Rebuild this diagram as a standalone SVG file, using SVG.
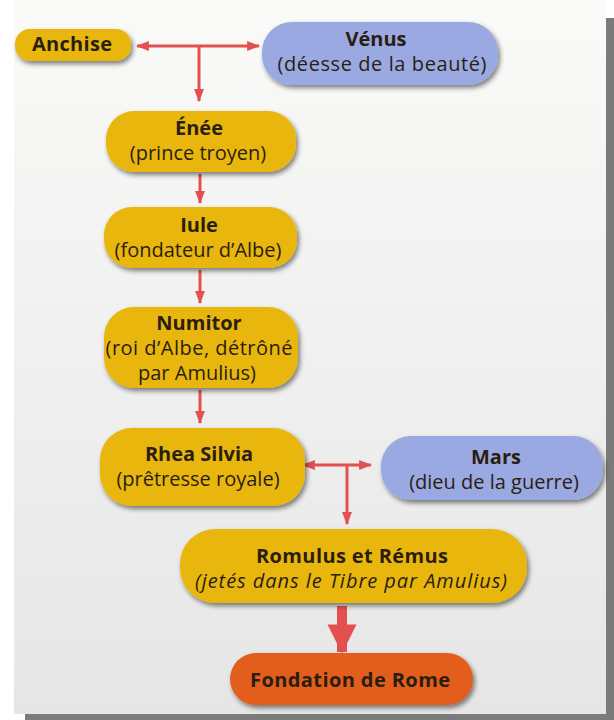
<svg xmlns="http://www.w3.org/2000/svg" width="614" height="720" viewBox="0 0 614 720">
<defs>
<linearGradient id="page" x1="0" y1="0" x2="0" y2="1">
<stop offset="0" stop-color="#fafaf9"/>
<stop offset="1" stop-color="#e6e6e6"/>
</linearGradient>
<filter id="sh" x="-10%" y="-20%" width="130%" height="150%">
<feGaussianBlur in="SourceAlpha" stdDeviation="2.5"/>
<feOffset dx="2" dy="3" result="b"/>
<feComponentTransfer><feFuncA type="linear" slope="0.5"/></feComponentTransfer>
<feMerge><feMergeNode/><feMergeNode in="SourceGraphic"/></feMerge>
</filter>
<marker id="ah" viewBox="0 0 13 10" refX="12" refY="5" markerWidth="4.3" markerHeight="3.3" orient="auto-start-reverse" markerUnits="strokeWidth">
<path d="M0,0 L13,5 L0,10 z" fill="#e2514f"/>
</marker>
<marker id="ahb" viewBox="0 0 10 10" refX="9.5" refY="5" markerWidth="2.9" markerHeight="3" orient="auto" markerUnits="strokeWidth">
<path d="M0,0 L10,5 L0,10 z" fill="#e2514f"/>
</marker>
</defs>
<style>
.y{fill:#e9b60c}
.b{fill:#9ba9e2}
.o{fill:#e35d1f}
.t{font-family:"Open Sans","Noto Sans",sans-serif;font-size:20px;fill:#2a1e10;text-anchor:middle}
.h{font-weight:bold}
.c{fill:none;stroke:#e2514f;stroke-width:3}
.cb{fill:none;stroke:#e2514f;stroke-width:10}
</style>
<rect x="0" y="0" width="614" height="720" fill="#ffffff"/>
<rect x="25" y="18" width="589" height="702" fill="#7b7b7b"/>
<rect x="14" y="0" width="592" height="714" fill="url(#page)"/>

<g id="connectors">
<line class="c" x1="137" y1="46" x2="259" y2="46" marker-start="url(#ah)" marker-end="url(#ah)"/>
<line class="c" x1="199" y1="46" x2="199" y2="101" marker-end="url(#ah)"/>
<line class="c" x1="200" y1="174" x2="200" y2="203" marker-end="url(#ah)"/>
<line class="c" x1="200" y1="270" x2="200" y2="303" marker-end="url(#ah)"/>
<line class="c" x1="200" y1="390" x2="200" y2="423" marker-end="url(#ah)"/>
<line class="c" x1="303" y1="465" x2="371" y2="465" marker-start="url(#ah)" marker-end="url(#ah)"/>
<line class="c" x1="347" y1="465" x2="347" y2="524" marker-end="url(#ah)"/>
<line class="cb" x1="342" y1="606" x2="342" y2="652" marker-end="url(#ahb)"/>
</g>

<g id="anchise">
<rect class="y" x="15" y="29" width="116" height="32" rx="15" filter="url(#sh)"/>
<text class="t h" x="72" y="51" textLength="80">Anchise</text>
</g>
<g id="venus">
<rect class="b" x="262" y="22" width="236" height="63" rx="30" filter="url(#sh)"/>
<text class="t h" x="376" y="46">Vénus</text>
<text class="t" x="382" y="71" textLength="209">(déesse de la beauté)</text>
</g>
<g id="enee">
<rect class="y" x="106" y="111" width="190" height="61" rx="28" filter="url(#sh)"/>
<text class="t h" x="199" y="135">Énée</text>
<text class="t" x="198" y="160">(prince troyen)</text>
</g>
<g id="iule">
<rect class="y" x="104" y="207" width="193" height="61" rx="28" filter="url(#sh)"/>
<text class="t h" x="199" y="232">Iule</text>
<text class="t" x="198" y="257">(fondateur d’Albe)</text>
</g>
<g id="numitor">
<rect class="y" x="104" y="307" width="194" height="81" rx="30" filter="url(#sh)"/>
<text class="t h" x="199" y="330">Numitor</text>
<text class="t" x="199" y="355" textLength="187">(roi d’Albe, détrôné</text>
<text class="t" x="197" y="380">par Amulius)</text>
</g>
<g id="rhea">
<rect class="y" x="100" y="428" width="205" height="78" rx="32" filter="url(#sh)"/>
<text class="t h" x="199" y="461">Rhea Silvia</text>
<text class="t" x="198" y="486">(prêtresse royale)</text>
</g>
<g id="mars">
<rect class="b" x="381" y="436" width="222" height="64" rx="30" filter="url(#sh)"/>
<text class="t h" x="496" y="464">Mars</text>
<text class="t" x="494" y="489">(dieu de la guerre)</text>
</g>
<g id="romulus">
<rect class="y" x="180" y="529" width="347" height="74" rx="35" filter="url(#sh)"/>
<text class="t h" x="352" y="563" textLength="192">Romulus et Rémus</text>
<text class="t" x="351" y="588" font-style="italic" textLength="312">(jetés dans le Tibre par Amulius)</text>
</g>
<g id="fondation">
<rect class="o" x="230" y="653" width="243" height="52" rx="26" filter="url(#sh)"/>
<text class="t h" x="350" y="687" textLength="200">Fondation de Rome</text>
</g>
</svg>
